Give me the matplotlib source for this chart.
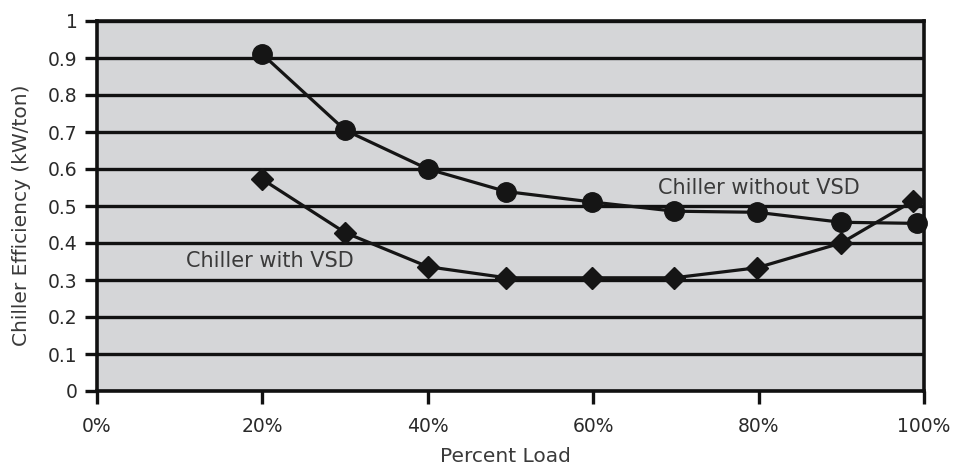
import matplotlib
matplotlib.use("Agg")
import matplotlib.pyplot as plt

plt.rcParams['font.family'] = ['DejaVu Sans']

# Percent load at each measured point
load_without = [20, 30, 40, 49.5, 59.8, 69.8, 79.8, 90, 99.2]
load_with = [20, 30, 40, 49.5, 59.8, 69.8, 79.8, 90, 98.7]

# Chiller efficiency (kW/ton)
eff_without_vsd = [0.91, 0.705, 0.60, 0.539, 0.511, 0.486, 0.483, 0.456, 0.453]
eff_with_vsd = [0.572, 0.428, 0.336, 0.306, 0.306, 0.306, 0.333, 0.40, 0.514]

x_ticks = [0, 20, 40, 60, 80, 100]
x_tick_labels = ["0%", "20%", "40%", "60%", "80%", "100%"]
y_ticks = [0, 0.1, 0.2, 0.3, 0.4, 0.5, 0.6, 0.7, 0.8, 0.9, 1.0]
y_tick_labels = ["0", "0.1", "0.2", "0.3", "0.4", "0.5", "0.6", "0.7", "0.8", "0.9", "1"]

W, H = 954, 470
fig = plt.figure(figsize=(W / 100, H / 100), dpi=100)
ax = fig.add_axes([97 / W, 1 - 391 / H, (924 - 97) / W, (391 - 21) / H])

ax.set_facecolor("#d5d6d8")
ax.set_xlim(0, 100)
ax.set_ylim(0, 1.0)

# horizontal gridlines
for yv in y_ticks:
    ax.axhline(yv, color="#111111", lw=2.4, zorder=1)

ink = "#151515"
ax.plot(load_without, eff_without_vsd, color=ink, lw=2.3, marker="o",
        markersize=14, zorder=4, clip_on=False)
ax.plot(load_with, eff_with_vsd, color=ink, lw=2.3, marker="D",
        markersize=11, zorder=5, clip_on=False)

ax.text(80.0, 0.55, "Chiller without VSD", fontsize=15, color="#3a3a3a",
        ha="center", va="center", zorder=6)
ax.text(20.9, 0.352, "Chiller with VSD", fontsize=15, color="#3a3a3a",
        ha="center", va="center", zorder=6)

for s in ax.spines.values():
    s.set_color("#111111")
    s.set_linewidth(2.6)

ax.set_xticks(x_ticks)
ax.set_xticklabels(x_tick_labels)
ax.set_yticks(y_ticks)
ax.set_yticklabels(y_tick_labels)
ax.tick_params(axis="both", direction="out", length=9, width=2.4,
               color="#111111", labelsize=13.5, labelcolor="#2a2a2a")
ax.tick_params(axis="x", pad=10)
ax.tick_params(axis="y", pad=5)

fig.text(22 / W, 1 - 215 / H, "Chiller Efficiency (kW/ton)", rotation=90,
         fontsize=14.5, color="#3a3a3a", ha="center", va="center")
fig.text(505 / W, 1 - 456 / H, "Percent Load", fontsize=14.5,
         color="#3a3a3a", ha="center", va="center")

fig.savefig("out.png", dpi=100, facecolor="white")
